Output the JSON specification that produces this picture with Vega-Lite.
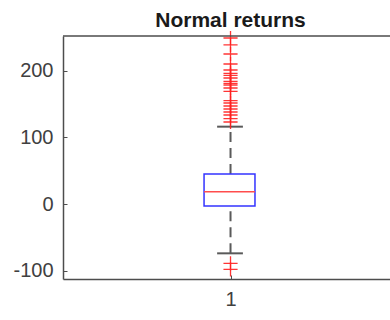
{
  "$schema": "https://vega.github.io/schema/vega-lite/v6.json",
  "autosize": "none",
  "width": 327,
  "height": 243,
  "padding": {"left": 63, "top": 36, "right": 0, "bottom": 41},
  "background": "white",
  "config": {
    "view": {"stroke": null},
    "font": "Liberation Sans",
    "axis": {
      "grid": false,
      "domainColor": "#4d4d4d",
      "domainWidth": 1.5,
      "tickColor": "#4d4d4d",
      "labelColor": "#404040",
      "labelFont": "Liberation Sans",
      "labelFontSize": 20,
      "title": null
    }
  },
  "title": {
    "text": "Normal returns",
    "fontSize": 21,
    "fontWeight": "bold",
    "font": "Liberation Sans",
    "color": "#1a1a1a",
    "offset": -3,
    "dx": 4
  },
  "datasets": {
    "stats": [{"q1": -3, "median": 18.5, "q3": 45, "lo": -74, "hi": 116}],
    "outliers": [
      {"v": 249}, {"v": 238.6}, {"v": 225}, {"v": 210}, {"v": 201}, {"v": 196},
      {"v": 193}, {"v": 189}, {"v": 184}, {"v": 181}, {"v": 178.5}, {"v": 174},
      {"v": 169}, {"v": 155}, {"v": 151.5}, {"v": 147}, {"v": 142.5}, {"v": 138},
      {"v": 133.5}, {"v": 128}, {"v": 123}, {"v": -89}, {"v": -98}
    ]
  },
  "layer": [
    {
      "data": {"name": "stats"},
      "mark": {"type": "rule", "color": "#5a5a5a", "strokeWidth": 2, "strokeDash": [10, 6]},
      "encoding": {
        "x": {"datum": 1, "type": "quantitative",
              "scale": {"domain": [0.5, 1.476], "nice": false, "zero": false},
              "axis": {"orient": "bottom", "values": [1], "tickSize": -4, "labelPadding": 14, "labelExpr": "'' + datum.value"}},
        "y": {"field": "q3", "type": "quantitative",
              "scale": {"domain": [-112.5, 252], "nice": false, "zero": false},
              "axis": {"values": [-100, 0, 100, 200], "tickSize": -4, "labelPadding": 14, "labelExpr": "'' + datum.value"}},
        "y2": {"field": "hi"}
      }
    },
    {
      "data": {"name": "stats"},
      "mark": {"type": "rule", "color": "#5a5a5a", "strokeWidth": 2, "strokeDash": [10, 6]},
      "encoding": {
        "x": {"datum": 1, "type": "quantitative"},
        "y": {"field": "lo", "type": "quantitative"},
        "y2": {"field": "q1"}
      }
    },
    {
      "data": {"name": "stats"},
      "mark": {"type": "rule", "color": "#5a5a5a", "strokeWidth": 2},
      "encoding": {
        "x": {"datum": 0.96, "type": "quantitative"},
        "x2": {"datum": 1.037},
        "y": {"field": "hi", "type": "quantitative"}
      }
    },
    {
      "data": {"name": "stats"},
      "mark": {"type": "rule", "color": "#5a5a5a", "strokeWidth": 2},
      "encoding": {
        "x": {"datum": 0.96, "type": "quantitative"},
        "x2": {"datum": 1.037},
        "y": {"field": "lo", "type": "quantitative"}
      }
    },
    {
      "data": {"name": "stats"},
      "mark": {"type": "rect", "fill": "white", "fillOpacity": 0, "stroke": "#3333ff", "strokeWidth": 1.5},
      "encoding": {
        "x": {"datum": 0.921, "type": "quantitative"},
        "x2": {"datum": 1.073},
        "y": {"field": "q1", "type": "quantitative"},
        "y2": {"field": "q3"}
      }
    },
    {
      "data": {"name": "stats"},
      "mark": {"type": "rule", "color": "#ff4d4d", "strokeWidth": 1.5},
      "encoding": {
        "x": {"datum": 0.921, "type": "quantitative"},
        "x2": {"datum": 1.073},
        "y": {"field": "median", "type": "quantitative"}
      }
    },
    {
      "data": {"name": "outliers"},
      "mark": {"type": "point", "shape": "M-1,0L1,0M0,-1L0,1", "filled": false, "color": "#ff2020", "strokeWidth": 1.3, "size": 200, "opacity": 0.9},
      "encoding": {
        "x": {"datum": 1, "type": "quantitative"},
        "y": {"field": "v", "type": "quantitative"}
      }
    },
    {
      "data": {"name": "stats"},
      "mark": {"type": "rule", "color": "#4d4d4d", "strokeWidth": 1.5},
      "encoding": {
        "y": {"datum": 252, "type": "quantitative"}
      }
    }
  ]
}
